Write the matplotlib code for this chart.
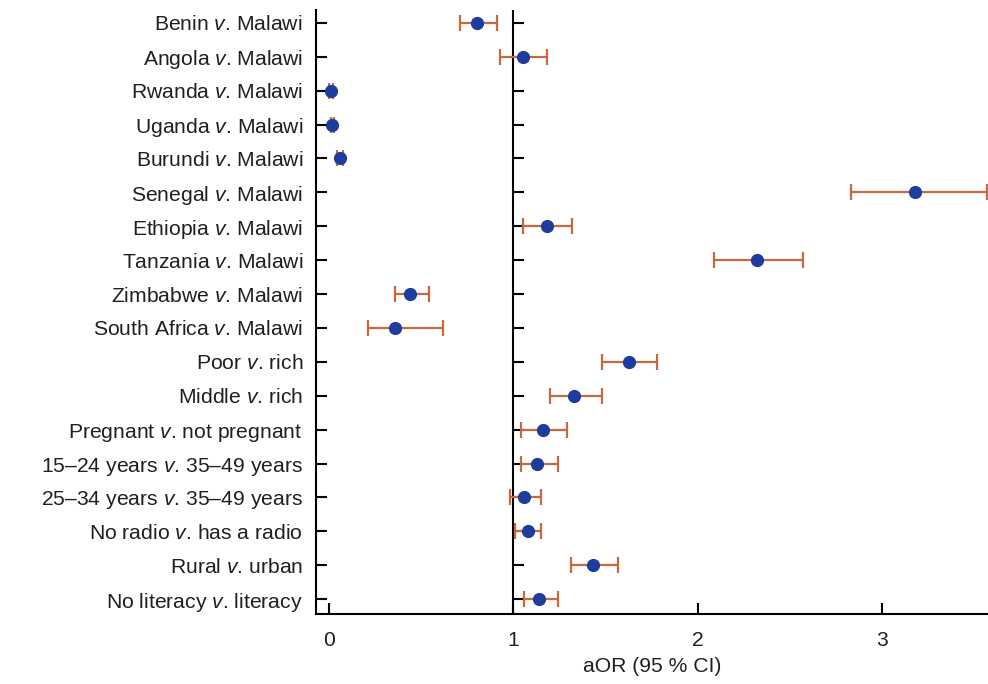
import numpy as np
import matplotlib.pyplot as plt

plt.rcParams['font.family'] = ['Liberation Sans', 'DejaVu Sans']
plt.rcParams['mathtext.fontset'] = 'custom'
plt.rcParams['mathtext.rm'] = 'Liberation Sans'
plt.rcParams['mathtext.it'] = 'Liberation Sans:italic'

labels = [
    'Benin $v$. Malawi', 'Angola $v$. Malawi', 'Rwanda $v$. Malawi',
    'Uganda $v$. Malawi', 'Burundi $v$. Malawi', 'Senegal $v$. Malawi',
    'Ethiopia $v$. Malawi', 'Tanzania $v$. Malawi', 'Zimbabwe $v$. Malawi',
    'South Africa $v$. Malawi', 'Poor $v$. rich', 'Middle $v$. rich',
    'Pregnant $v$. not pregnant', '15\u201324 years $v$. 35\u201349 years',
    '25\u201334 years $v$. 35\u201349 years', 'No radio $v$. has a radio',
    'Rural $v$. urban', 'No literacy $v$. literacy',
]
aor = [0.80, 1.05, 0.01, 0.017, 0.06, 3.18, 1.18, 2.32, 0.44, 0.36,
       1.63, 1.33, 1.16, 1.13, 1.06, 1.08, 1.43, 1.14]
ci_low = [0.71, 0.93, 0.00, 0.008, 0.045, 2.83, 1.05, 2.09, 0.36, 0.21,
          1.48, 1.20, 1.04, 1.04, 0.98, 1.01, 1.31, 1.06]
ci_high = [0.91, 1.18, 0.02, 0.025, 0.075, 3.57, 1.32, 2.57, 0.54, 0.62,
           1.78, 1.48, 1.29, 1.24, 1.15, 1.15, 1.57, 1.24]

aor = np.array(aor)
err = [aor - np.array(ci_low), np.array(ci_high) - aor]
ypos = np.arange(len(labels))

fig = plt.figure(figsize=(9.88, 6.84), dpi=100)
ax = fig.add_axes([0.320, 0.1023, 0.680, 0.8831])

# reference line at 1 with its own row ticks (pointing right)
ax.axvline(1, color='black', lw=1.5, zorder=1)
ax.plot(np.ones(len(ypos)), ypos, ls='none', marker=1, ms=8, mew=1.5,
        color='black', zorder=1)

ax.errorbar(aor, ypos, xerr=err, fmt='none', ecolor='#c8683c', elinewidth=1.6,
            capsize=6, capthick=1.6, zorder=2)
ax.plot(aor, ypos, 'o', color='#1c3d9e', ms=8.5, zorder=3)

ax.set_yticks(ypos)
ax.set_yticklabels(labels, fontsize=15.2, color='#231f20')
ax.set_xticks([0, 1, 2, 3])
ax.set_xticklabels(['0', '1', '2', '3'], fontsize=15.2, color='#231f20')
ax.set_xlim(-0.0705, 3.576)
ax.set_ylim(17.44, -0.38)

ax.tick_params(axis='y', direction='in', length=8, width=1.5, pad=9.5)
ax.tick_params(axis='x', direction='in', length=8, width=1.5, pad=12)

for s in ['top', 'right']:
    ax.spines[s].set_visible(False)
for s in ['left', 'bottom']:
    ax.spines[s].set_linewidth(1.5)

ax.set_xlabel('aOR (95 % CI)', fontsize=15.2, color='#231f20', labelpad=5)

fig.savefig('out.png', dpi=100)
